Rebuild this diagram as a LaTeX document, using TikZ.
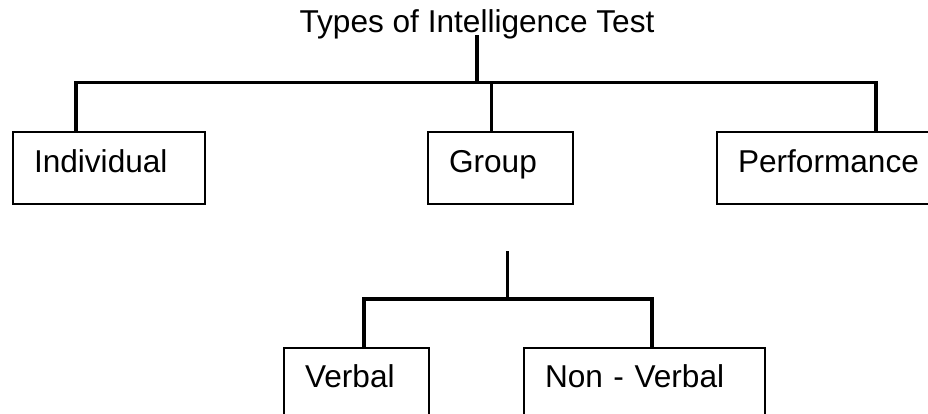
\documentclass[tikz,border=0pt]{standalone}
\usepackage{fontspec}
\setmainfont{Liberation Sans}
\usetikzlibrary{calc}
\begin{document}
\begin{tikzpicture}[x=1pt,y=-1pt,
  every node/.style={font=\fontsize{31.6}{38}\selectfont},
  conn/.style={line width=3.2pt, line join=miter},
  box/.style={draw, line width=2pt, anchor=north west, inner xsep=21pt, inner ysep=0pt, align=left},
  toprow/.style={box, text height=40pt, text depth=32pt},
  botrow/.style={box, text height=39pt, text depth=34pt}]
\useasboundingbox (0,0) rectangle (928,414);
\clip (0,0) rectangle (928,414);
\node[anchor=base, inner sep=0pt, text depth=2pt] (t) at (477,33) {Types of Intelligence Test};
\node[toprow, text width=150pt] (ind) at (12,131) {Individual};
\node[toprow, text width=103pt] (gr) at (427,131) {Group};
\node[toprow, text width=200pt] (perf) at (716,131) {Performance};
\node[botrow, text width=103pt] (vb) at (283,347) {Verbal};
\node[botrow, text width=199pt] (nvb) at (523,347) {Non - Verbal};
\coordinate (hL) at (76,82.5);
\coordinate (hR) at (876,82.5);
\coordinate (gD) at (491.7,82.5);
\draw[conn] (t.south) -- (t.south |- hL);
\draw[conn] (ind.north -| hL) -- (hL) -- (hR) -- (perf.north -| hR);
\draw[conn] (gD) -- (gr.north -| gD);
\coordinate (s2) at (507.7,251);
\coordinate (bL) at (364,299);
\coordinate (bR) at (652,299);
\draw[conn] (s2) -- (s2 |- bL);
\draw[conn] (vb.north -| bL) -- (bL) -- (bR) -- (nvb.north -| bR);
\end{tikzpicture}
\end{document}
